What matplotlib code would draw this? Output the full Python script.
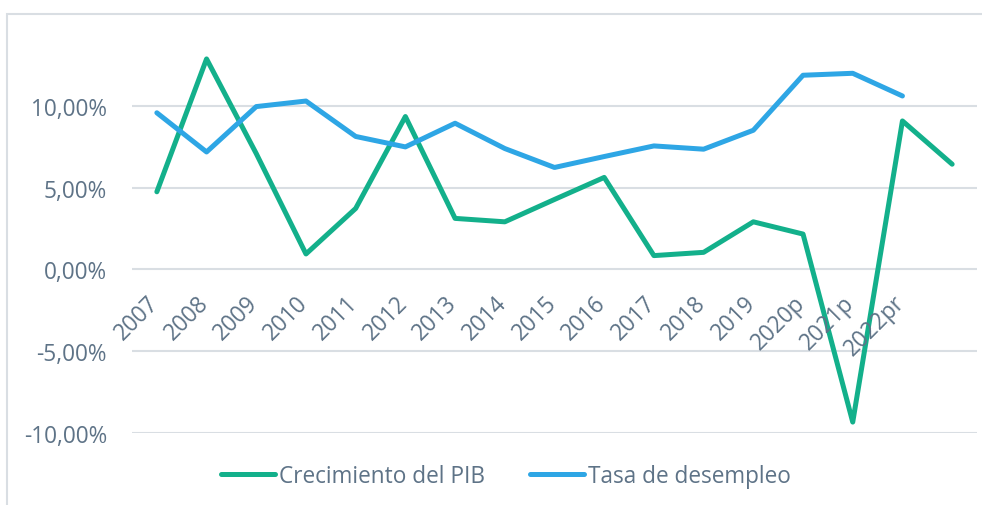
import matplotlib
matplotlib.use('Agg')
import matplotlib.pyplot as plt
from matplotlib.patches import Rectangle
from matplotlib.ticker import FuncFormatter

# datos
years = ['2007', '2008', '2009', '2010', '2011', '2012', '2013', '2014', '2015',
         '2016', '2017', '2018', '2019', '2020p', '2021p', '2022pr', '']
pib = [4.76, 12.9, 7.1, 0.95, 3.74, 9.37, 3.13, 2.92, 4.29,
       5.64, 0.85, 1.05, 2.92, 2.17, -9.35, 9.1, 6.45]
desempleo = [9.6, 7.2, 9.98, 10.32, 8.15, 7.51, 8.96, 7.41, 6.25,
             6.92, 7.57, 7.37, 8.53, 11.9, 12.02, 10.63]
yticks = [-10, -5, 0, 5, 10]

GREEN = '#13B08B'
BLUE = '#2EA6E5'
TEXT = '#5E7387'
GRID = '#D9DEE3'
FS = 16.3

plt.rcParams['font.family'] = ['Open Sans', 'DejaVu Sans']

fig = plt.figure(figsize=(9.82, 5.06), dpi=100)
ax = fig.add_axes([132 / 982, 0.1429, 845 / 982, 0.7935])

# marco exterior del grafico
fig.patches.append(Rectangle((7 / 982, -0.1), 1.2, (506 - 15) / 506 + 0.1,
                             transform=fig.transFigure, fill=False,
                             edgecolor=GRID, linewidth=1.5))

x = list(range(len(years)))
ax.plot(x, pib, color=GREEN, linewidth=3.6, solid_capstyle='round',
        solid_joinstyle='round', label='Crecimiento del PIB', zorder=3)
ax.plot(x[:len(desempleo)], desempleo, color=BLUE, linewidth=3.6,
        solid_capstyle='round', solid_joinstyle='round',
        label='Tasa de desempleo', zorder=3)

ax.set_xlim(-0.5, len(years) - 0.5)
ax.set_ylim(-10, 14.6)
ax.set_yticks(yticks)
ax.yaxis.set_major_formatter(FuncFormatter(lambda v, _: f"{v:.2f}%".replace('.', ',')))
ax.tick_params(axis='y', length=0, pad=18, labelsize=FS, labelcolor=TEXT)
ax.set_xticks([])
ax.grid(axis='y', color=GRID, linewidth=1.5)
ax.set_axisbelow(True)
for s in ax.spines.values():
    s.set_visible(False)

# etiquetas de categoria sobre la linea de cero
for i, lab in enumerate(years):
    ax.annotate(lab, xy=(i, 0), xytext=(5, -15), textcoords='offset points',
                rotation=45, ha='right', va='top', fontsize=FS, color=TEXT)

fig.legend(loc='center', bbox_to_anchor=(0.515, 0.058), ncol=2, frameon=False,
           fontsize=FS, labelcolor=TEXT, handlelength=2.4, handletextpad=0.15,
           columnspacing=2.0)

fig.savefig('out.png', dpi=100)
